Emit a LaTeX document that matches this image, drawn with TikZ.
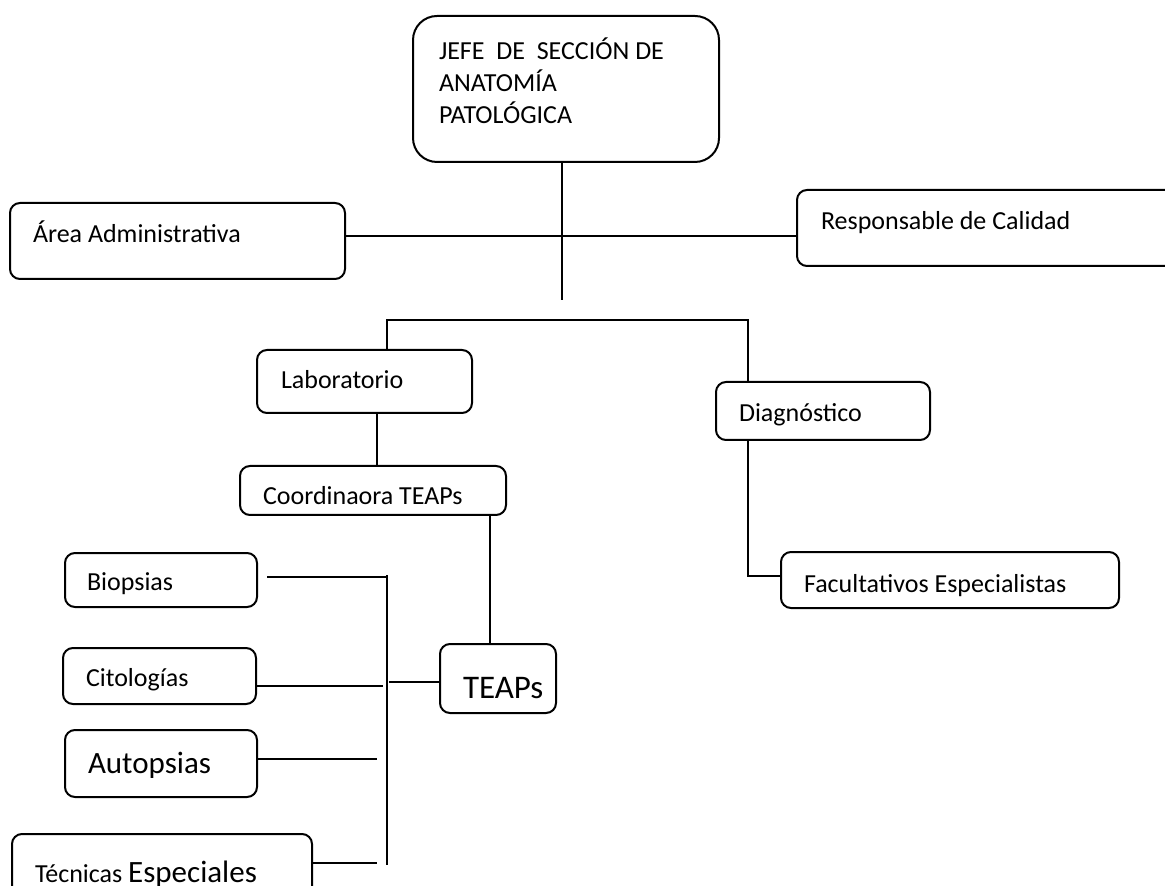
\documentclass[tikz,border=0pt]{standalone}
\usepackage{fontspec}
\setmainfont{Carlito}
\begin{document}
\begin{tikzpicture}[x=0.5pt,y=-0.5pt,
  box/.style={draw=black, line width=1pt, rounded corners=5pt, inner sep=0pt, outer sep=0pt},
  bigbox/.style={box, rounded corners=12pt},
  txt/.style={inner sep=0pt, outer sep=0pt, anchor=base west, font=\fontsize{13}{15}\selectfont},
  bigtxt/.style={txt, font=\fontsize{15.5}{18}\selectfont},
  conn/.style={draw=black, line width=1pt}]
\useasboundingbox (0,0) rectangle (1165,886);
\clip (0,0) rectangle (1165,886);
% boxes
\node[bigbox, minimum width=153pt, minimum height=73pt] (jefe) at (566,89) {};
\node[box, minimum width=167.5pt, minimum height=38pt] (area) at (177.5,241) {};
\node[box, minimum width=191.5pt, minimum height=38pt] (resp) at (988.5,228) {};
\node[box, minimum width=107.5pt, minimum height=31.5pt] (lab) at (364.5,381.5) {};
\node[box, minimum width=133pt, minimum height=24.5pt] (coord) at (373,490.5) {};
\node[box, minimum width=107pt, minimum height=29pt] (diag) at (823,411) {};
\node[box, minimum width=169pt, minimum height=28pt] (fac) at (950,580) {};
\node[box, minimum width=58pt, minimum height=34.5pt] (teaps) at (498,678.5) {};
\node[box, minimum width=96pt, minimum height=27pt] (bio) at (161,580) {};
\node[box, minimum width=96.5pt, minimum height=28pt] (cito) at (159.5,676) {};
\node[box, minimum width=96pt, minimum height=33.5pt] (auto) at (161,763.5) {};
\node[box, minimum width=150pt, minimum height=33pt] (tec) at (162,867) {};
% texts
\node[txt] (jefe1) at (439,60) {JEFE\ \ DE\ \ SECCIÓN DE};
\node[txt] (jefe2) at (439,92) {ANATOMÍA};
\node[txt] (jefe3) at (439,124) {PATOLÓGICA};
\node[txt] (areat) at (33,243) {Área Administrativa};
\node[txt] (respt) at (821,230) {Responsable de Calidad};
\node[txt] (labt) at (281,389) {Laboratorio};
\node[txt] (coordt) at (263,505) {Coordinaora TEAPs};
\node[txt] (diagt) at (739,422) {Diagnóstico};
\node[txt] (fact) at (804,592) {Facultativos Especialistas};
\node[txt, font=\fontsize{16.5}{19}\selectfont] (teapst) at (463,698) {TEAPs};
\node[txt] (biot) at (87,590) {Biopsias};
\node[txt] (citot) at (86,686) {Citologías};
\node[bigtxt] (autot) at (88,773) {Autopsias};
\node[txt] (tect) at (35,882) {Técnicas {\fontsize{15.5}{18}\selectfont Especiales}};
% coordinates
\coordinate (jx) at (562,300);
\coordinate (hy) at (0,236);
\coordinate (bl) at (387,320);
\coordinate (br) at (748,320);
\coordinate (lx) at (377,0);
\coordinate (tx) at (490,0);
\coordinate (dk) at (748,576);
\coordinate (v1) at (387,575);
\coordinate (v2) at (387,865);
\coordinate (by) at (387,577);
\coordinate (ty) at (389,682);
\coordinate (cy) at (383,686);
\coordinate (ay) at (377,759);
\coordinate (ey) at (377,863);
% connectors
\draw[conn] (jefe.south -| jx) -- (jx);
\draw[conn] (area.east |- hy) -- (resp.west |- hy);
\draw[conn] (lab.north -| bl) -- (bl) -- (br) -- (diag.north -| br);
\draw[conn] (lab.south -| lx) -- (coord.north -| lx);
\draw[conn] (coord.south -| tx) -- (teaps.north -| tx);
\draw[conn] (diag.south -| dk) -- (dk) -- (fac.west |- dk);
\draw[conn] (v1) -- (v2);
\draw[conn] (teaps.west |- ty) -- (ty);
\draw[conn] ([xshift=5pt]bio.east |- by) -- (by);
\draw[conn] (cito.east |- cy) -- (cy);
\draw[conn] (auto.east |- ay) -- (ay);
\draw[conn] (tec.east |- ey) -- (ey);
\end{tikzpicture}
\end{document}
